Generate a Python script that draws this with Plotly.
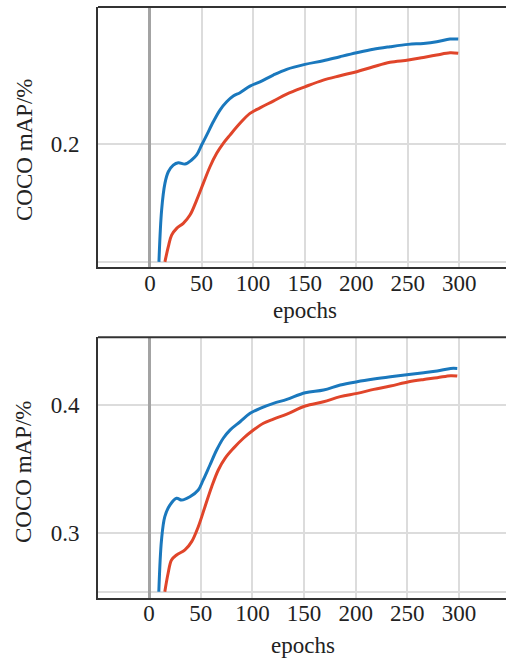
import plotly.graph_objects as go

# ---- data: top panel ----
top_blue_epochs = [8.7, 11.3, 14.5, 17.8, 22.6, 27.5, 33.9, 40.4, 45.3, 50.1, 55, 61.4, 67.9, 74.4, 80.8, 87.3,
                   97, 106.7, 119.6, 132.6, 150.3, 168.1, 184.3, 200.5, 216.6, 232.8, 250.6, 265.2, 278.1, 291, 299]
top_blue_map = [0.1161, 0.1531, 0.1721, 0.1804, 0.1852, 0.1869, 0.1859, 0.1888, 0.1924, 0.1995, 0.2066, 0.2161,
                0.2245, 0.2304, 0.2345, 0.2369, 0.2416, 0.2447, 0.2495, 0.2536, 0.2571, 0.2597, 0.2626, 0.2654,
                0.2679, 0.2697, 0.2714, 0.2721, 0.2733, 0.2752, 0.2752]
top_red_epochs = [14.5, 17.8, 21, 25.9, 32.3, 38.8, 45.3, 51.7, 58.2, 64.7, 71.1, 77.6, 87.3, 97, 106.7, 119.6,
                  132.6, 150.3, 168.1, 184.3, 200.5, 216.6, 232.8, 250.6, 265.2, 278.1, 291, 299]
top_red_map = [0.1161, 0.1269, 0.1352, 0.1400, 0.1436, 0.1495, 0.1602, 0.1721, 0.1840, 0.1936, 0.2007, 0.2066,
               0.2150, 0.2221, 0.2261, 0.2309, 0.2359, 0.2411, 0.2459, 0.2490, 0.2519, 0.2554, 0.2586, 0.2602,
               0.2621, 0.2638, 0.2654, 0.2650]

# ---- data: bottom panel ----
bot_blue_epochs = [9.4, 12, 15.2, 20.1, 26.6, 31.5, 39.5, 47.6, 52.4, 58.9, 65.4, 71.8, 78.3, 88.1, 97.8, 107.5,
                   120.4, 133.4, 151.2, 168.9, 185.1, 201.4, 217.5, 233.7, 251.5, 266, 279, 292, 298.4]
bot_blue_map = [0.2539, 0.2943, 0.3125, 0.3216, 0.3269, 0.3255, 0.3281, 0.3334, 0.3412, 0.3529, 0.3646, 0.3738,
                0.3802, 0.3867, 0.3933, 0.3972, 0.4011, 0.4042, 0.4094, 0.4115, 0.4154, 0.4180, 0.4201, 0.4219,
                0.4237, 0.4250, 0.4263, 0.4284, 0.4284]
bot_red_epochs = [15.2, 18.4, 21.7, 26.6, 34.7, 41.2, 47.6, 54.1, 60.6, 67, 73.5, 81.6, 91.3, 101, 110.7, 120.4,
                  133.4, 151.2, 168.9, 185.1, 201.4, 217.5, 233.7, 251.5, 266, 279, 292, 298.4]
bot_red_map = [0.2539, 0.2683, 0.2787, 0.2826, 0.2865, 0.2930, 0.3047, 0.3203, 0.3359, 0.3490, 0.3581, 0.3659,
               0.3738, 0.3802, 0.3855, 0.3888, 0.3927, 0.3990, 0.4023, 0.4063, 0.4089, 0.4120, 0.4146, 0.4180,
               0.4198, 0.4211, 0.4227, 0.4224]

x_ticks = [0, 50, 100, 150, 200, 250, 300]
top_y_ticks = [0.1161, 0.2]
top_y_text = ["", "0.2"]
bot_y_ticks = [0.2539, 0.3, 0.4]
bot_y_text = ["", "0.3", "0.4"]

BLUE = "#1a78bd"
RED = "#e0452a"
FONT = "Liberation Serif"
W, H = 506, 662

fig = go.Figure()
line_kw = dict(mode="lines", line_shape="spline", showlegend=False, hoverinfo="skip")
fig.add_trace(go.Scatter(x=top_blue_epochs, y=top_blue_map, line=dict(color=BLUE, width=3), xaxis="x", yaxis="y", **line_kw))
fig.add_trace(go.Scatter(x=top_red_epochs, y=top_red_map, line=dict(color=RED, width=3), xaxis="x", yaxis="y", **line_kw))
fig.add_trace(go.Scatter(x=bot_blue_epochs, y=bot_blue_map, line=dict(color=BLUE, width=3), xaxis="x2", yaxis="y2", **line_kw))
fig.add_trace(go.Scatter(x=bot_red_epochs, y=bot_red_map, line=dict(color=RED, width=3), xaxis="x2", yaxis="y2", **line_kw))

xd = [98 / W, 1]
top_dom = [1 - 267 / H, 1 - 7 / H]
bot_dom = [1 - 597.7 / H, 1 - 337.3 / H]

xaxis_common = dict(tickvals=x_ticks, ticktext=[str(v) for v in x_ticks], showgrid=True, gridcolor="#dcdcdc",
                    gridwidth=2, zeroline=True, zerolinecolor="#a3a3a3", zerolinewidth=2.5,
                    showline=True, linecolor="#333333", linewidth=2, ticks="", ticklabelstandoff=-6,
                    tickfont=dict(family=FONT, size=23, color="#222222"), domain=xd, fixedrange=True)
yaxis_common = dict(showgrid=True, gridcolor="#dcdcdc", gridwidth=2, zeroline=False,
                    showline=True, linecolor="#333333", linewidth=2, ticks="", ticklabelstandoff=12,
                    tickfont=dict(family=FONT, size=23, color="#222222"), fixedrange=True)

fig.update_layout(
    width=W, height=H, margin=dict(l=0, r=0, t=0, b=0),
    paper_bgcolor="white", plot_bgcolor="white",
    xaxis=dict(range=[-50.4, 345.3], anchor="y", **xaxis_common),
    yaxis=dict(range=[0.1124, 0.2981], domain=top_dom, anchor="x", tickvals=top_y_ticks, ticktext=top_y_text, **yaxis_common),
    xaxis2=dict(range=[-49.5, 345.6], anchor="y2", **xaxis_common),
    yaxis2=dict(range=[0.2492, 0.4527], domain=bot_dom, anchor="x2", tickvals=bot_y_ticks, ticktext=bot_y_text, **yaxis_common),
)

# top frame lines
for dom in (top_dom, bot_dom):
    fig.add_shape(type="line", xref="paper", yref="paper", x0=xd[0], x1=1, y0=dom[1], y1=dom[1],
                  line=dict(color="#333333", width=2))

tfont = dict(family=FONT, size=23, color="#222222")
ann = [
    dict(text="COCO mAP/%", x=24 / W, y=1 - 150 / H, textangle=-90),
    dict(text="COCO mAP/%", x=24 / W, y=1 - 472 / H, textangle=-90),
    dict(text="epochs", x=305 / W, y=1 - 310 / H),
    dict(text="epochs", x=303 / W, y=1 - 645 / H),
]
for a in ann:
    fig.add_annotation(xref="paper", yref="paper", xanchor="center", yanchor="middle", showarrow=False, font=tfont, **a)

fig.write_html("out.html", config={"displayModeBar": False},
               post_script="document.body.style.margin='0';document.body.style.overflow='hidden';")
